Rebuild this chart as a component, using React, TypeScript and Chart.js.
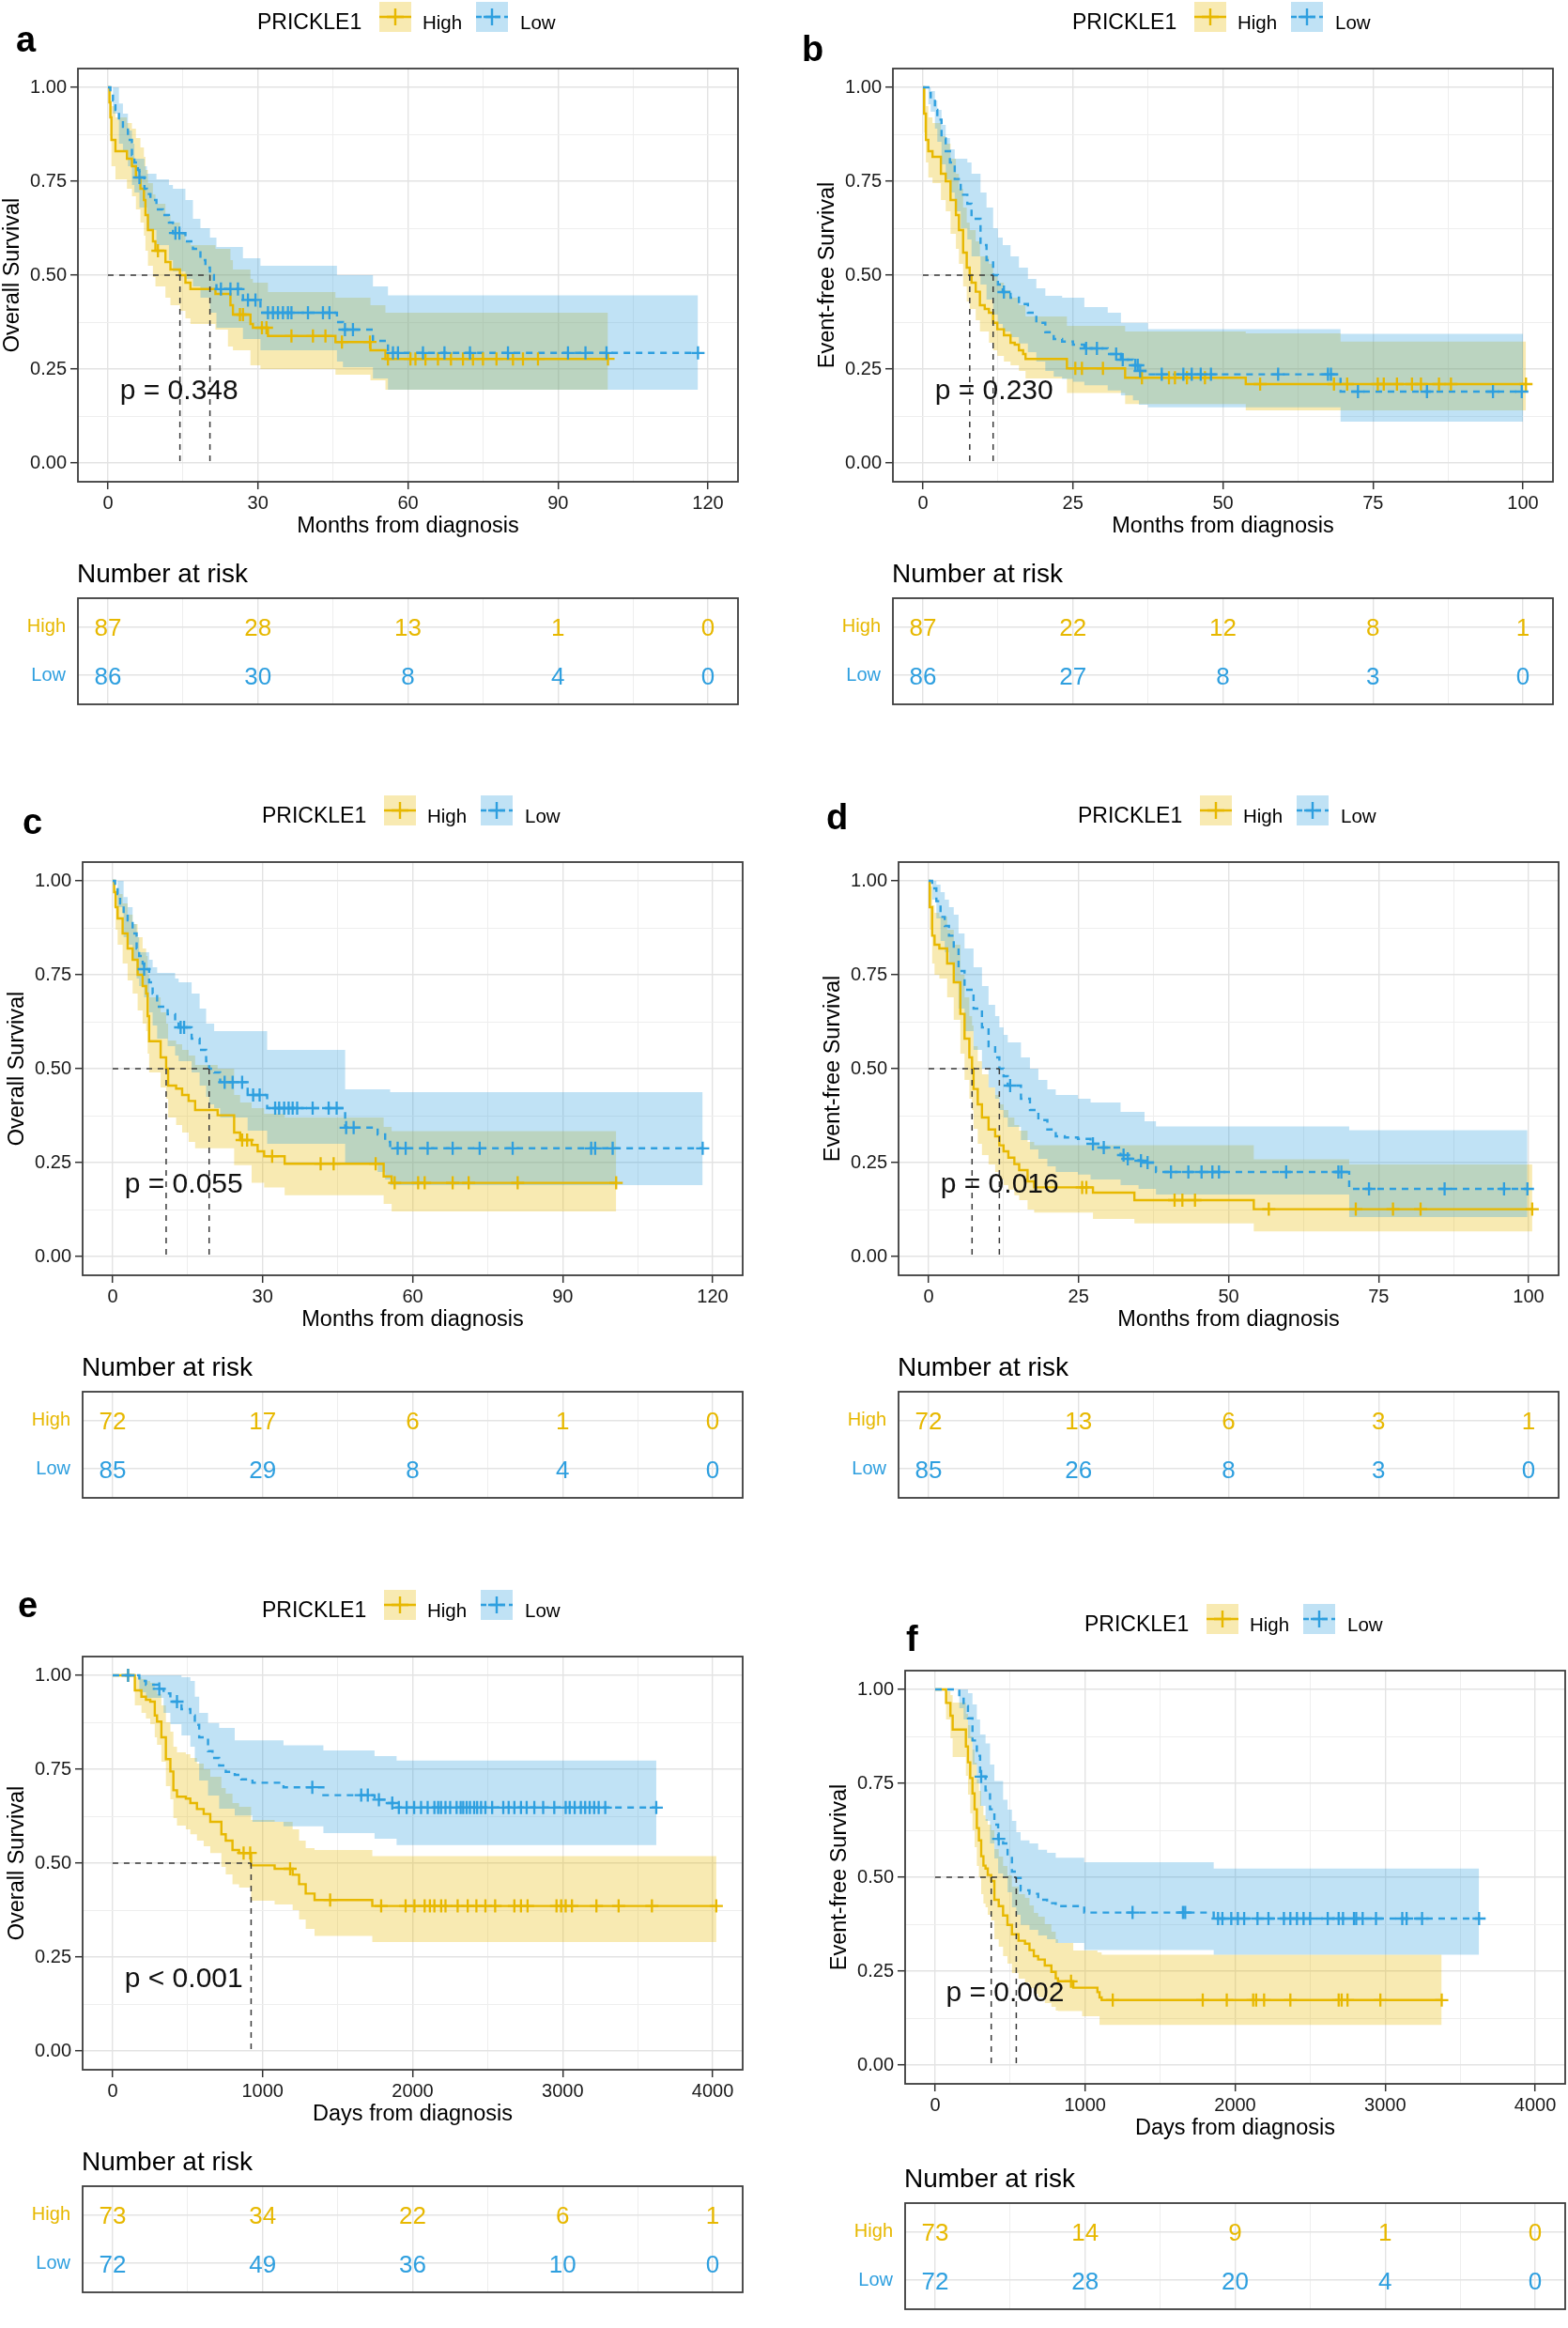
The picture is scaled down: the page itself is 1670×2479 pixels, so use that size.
import React, { useEffect, useRef } from 'react';
import { Chart, registerables } from 'chart.js';

Chart.register(...registerables);

const FONT = '"Liberation Sans", Arial, Helvetica, sans-serif';
Chart.defaults.font.family = FONT;

type Pt = [number, number];

// ---------------- shared labels / ticks ----------------
const legendTitle = 'PRICKLE1';
const riskGroups = ['High', 'Low'];
const survTicks = [0, 0.25, 0.5, 0.75, 1];
const monthTicks30 = [0, 30, 60, 90, 120];
const monthTicks25 = [0, 25, 50, 75, 100];
const dayTicks = [0, 1000, 2000, 3000, 4000];

// ---------------- panel a ----------------
const aHighSurv: Pt[] = [[0,1],[0.3,0.96],[0.5,0.92],[0.7,0.86],[1.5,0.83],[3.8,0.81],[4.8,0.79],[5.6,0.76],[6.5,0.73],[7.2,0.70],[7.5,0.66],[8,0.62],[9,0.59],[9.5,0.565],[11.5,0.535],[12.5,0.515],[14.4,0.50],[15.5,0.48],[16.5,0.463],[21.5,0.45],[24.5,0.42],[25,0.395],[28.5,0.37],[29,0.36],[32,0.338],[45.5,0.322],[52.5,0.30],[55.5,0.277],[100,0.277]];
const aHighUpper: Pt[] = [[0,1],[0.5,0.99],[0.7,0.95],[1.5,0.92],[3.8,0.905],[4.8,0.89],[5.6,0.865],[6.5,0.84],[7.2,0.815],[7.5,0.78],[8,0.745],[9,0.715],[9.5,0.69],[11.5,0.66],[12.5,0.64],[14.4,0.61],[15.5,0.59],[16.5,0.58],[21.5,0.57],[24.5,0.54],[25,0.515],[28.5,0.49],[29,0.48],[32,0.455],[45.5,0.44],[52.5,0.42],[55.5,0.40],[100,0.40]];
const aHighLower: Pt[] = [[0,1],[0.3,0.92],[0.5,0.87],[0.7,0.79],[1.5,0.755],[3.8,0.73],[4.8,0.71],[5.6,0.675],[6.5,0.64],[7.2,0.605],[7.5,0.565],[8,0.525],[9,0.495],[9.5,0.47],[11.5,0.44],[12.5,0.42],[14.4,0.405],[15.5,0.385],[16.5,0.37],[21.5,0.355],[24,0.31],[25,0.30],[28.5,0.26],[30.5,0.25],[45.5,0.235],[52.5,0.22],[55.5,0.195],[100,0.195]];
const aHighCensor = [10.0, 26.4, 27.0, 30.8, 31.7, 36.7, 41.0, 43.5, 46.8, 52.4, 56.0, 60.5, 61.5, 63.5, 66.0, 68.6, 71.0, 73.0, 75.0, 77.7, 81.0, 83.0, 86.0, 100.0];
const aLowSurv: Pt[] = [[0,1],[0.5,0.988],[1,0.965],[1.5,0.94],[2.2,0.91],[3,0.895],[4,0.86],[4.8,0.82],[5.3,0.80],[6,0.78],[6.3,0.76],[7.3,0.73],[7.8,0.716],[8.5,0.70],[9.7,0.675],[11,0.66],[12.2,0.64],[13,0.612],[15.5,0.59],[17,0.57],[18.5,0.54],[19.5,0.52],[20.4,0.50],[21.2,0.48],[21.7,0.463],[27,0.434],[30.5,0.40],[45.8,0.375],[47,0.355],[53,0.325],[56,0.293],[118,0.293]];
const aLowUpper: Pt[] = [[0,1],[2.2,0.957],[3,0.93],[4,0.885],[4.8,0.85],[5.3,0.81],[7.3,0.79],[7.8,0.77],[9.7,0.755],[12.2,0.74],[13,0.73],[15.5,0.70],[17,0.65],[18.5,0.625],[20.4,0.60],[21.7,0.575],[27,0.545],[30.5,0.525],[45.8,0.50],[53,0.47],[56,0.446],[118,0.446]];
const aLowLower: Pt[] = [[0,1],[1,0.93],[2.2,0.85],[3,0.83],[4,0.79],[4.8,0.74],[5.3,0.72],[6.3,0.68],[7.8,0.62],[9.7,0.58],[12.2,0.54],[13,0.51],[15.5,0.49],[17,0.47],[18.5,0.44],[20.4,0.40],[21.7,0.36],[27,0.33],[30.5,0.30],[45.8,0.27],[47,0.255],[53,0.225],[56,0.195],[118,0.195]];
const aLowCensor = [6.3, 13.5, 14.3, 22.6, 24.5, 26.0, 28.0, 29.5, 32.0, 33.0, 34.0, 35.0, 36.0, 36.7, 40.0, 43.0, 44.3, 47.4, 49.0, 57.0, 58.0, 63.0, 67.3, 72.4, 80.0, 92.0, 95.5, 99.7, 118.0];
const aRiskHigh = [87, 28, 13, 1, 0];
const aRiskLow = [86, 30, 8, 4, 0];
const aMedians = [14.4, 20.4];

// ---------------- panel b ----------------
const bHighSurv: Pt[] = [[0,1],[0.2,0.93],[0.5,0.86],[0.9,0.83],[1.6,0.815],[3,0.77],[3.8,0.75],[4.6,0.70],[5.5,0.66],[6,0.62],[6.7,0.56],[7.3,0.52],[7.8,0.50],[8.1,0.48],[8.8,0.456],[9.5,0.42],[10.3,0.41],[11,0.40],[11.7,0.373],[12.4,0.356],[13.5,0.34],[14.6,0.32],[15.3,0.315],[16,0.30],[16.7,0.29],[17.1,0.277],[24,0.252],[33.7,0.227],[53.8,0.21],[100.5,0.21]];
const bHighUpper: Pt[] = [[0,1],[0.5,0.95],[0.9,0.92],[1.6,0.905],[3,0.87],[3.8,0.85],[4.6,0.81],[5.5,0.77],[6,0.73],[6.7,0.68],[7.3,0.64],[7.8,0.62],[8.8,0.59],[9.5,0.55],[11,0.53],[11.7,0.50],[12.4,0.48],[13.5,0.46],[14.6,0.44],[16,0.42],[17.1,0.39],[24,0.365],[33.7,0.35],[53.8,0.345],[69.6,0.323],[100.5,0.323]];
const bHighLower: Pt[] = [[0,1],[0.2,0.88],[0.5,0.80],[0.9,0.76],[1.6,0.745],[3,0.70],[3.8,0.67],[4.6,0.61],[5.5,0.57],[6,0.53],[6.7,0.47],[7.3,0.43],[7.8,0.41],[8.8,0.38],[9.5,0.35],[11,0.32],[11.7,0.30],[12.4,0.285],[13.5,0.27],[14.6,0.26],[16,0.245],[17.1,0.225],[24,0.186],[33.7,0.157],[53.8,0.14],[100.5,0.14]];
const bHighCensor = [25.4, 26.5, 30.0, 36.5, 41.0, 42.0, 44.0, 47.0, 56.2, 68.5, 70.7, 75.8, 76.8, 79.0, 81.5, 83.0, 86.0, 88.0, 100.5];
const bLowSurv: Pt[] = [[0,1],[0.9,0.985],[1.3,0.97],[2,0.94],[2.4,0.914],[3.1,0.864],[3.8,0.83],[4.5,0.80],[5.3,0.756],[6.3,0.714],[7.4,0.69],[8.1,0.65],[9.6,0.58],[10.6,0.54],[11.7,0.50],[12.5,0.475],[13.3,0.455],[14.6,0.44],[16,0.423],[17.5,0.40],[18.9,0.373],[20.4,0.348],[21.8,0.33],[23.2,0.323],[25,0.315],[26.9,0.305],[30.8,0.29],[33,0.275],[35,0.26],[36,0.245],[37.5,0.236],[69.6,0.19],[100,0.19]];
const bLowUpper: Pt[] = [[0,1],[1.3,0.99],[2,0.965],[2.4,0.94],[3.1,0.90],[3.8,0.865],[4.5,0.835],[5.3,0.81],[7.4,0.80],[8.1,0.77],[9.6,0.72],[10.6,0.68],[11.7,0.625],[12.5,0.60],[13.3,0.58],[14.6,0.55],[16,0.52],[17.5,0.49],[18.9,0.465],[20.4,0.445],[23.2,0.44],[26.9,0.415],[30.8,0.40],[33,0.373],[37.5,0.356],[69.6,0.344],[100,0.344]];
const bLowLower: Pt[] = [[0,1],[0.9,0.955],[1.3,0.935],[2,0.89],[2.4,0.855],[3.1,0.795],[3.8,0.755],[4.5,0.72],[5.3,0.67],[6.3,0.625],[7.4,0.595],[8.1,0.55],[9.6,0.475],[10.6,0.435],[11.7,0.395],[12.5,0.37],[13.3,0.35],[14.6,0.335],[16,0.318],[17.5,0.295],[18.9,0.27],[20.4,0.245],[21.8,0.23],[23.2,0.224],[25,0.216],[26.9,0.207],[30.8,0.193],[33,0.18],[35,0.167],[36,0.155],[37.5,0.148],[69.6,0.11],[100,0.11]];
const bLowCensor = [13.5, 27.2, 29.0, 32.2, 33.3, 35.4, 35.8, 36.2, 39.8, 43.4, 44.8, 46.3, 48.0, 59.2, 67.5, 68.0, 72.5, 84.0, 95.0, 99.8];
const bRiskHigh = [87, 22, 12, 8, 1];
const bRiskLow = [86, 27, 8, 3, 0];
const bMedians = [7.8, 11.7];

// ---------------- panel c ----------------
const cHighSurv: Pt[] = [[0,1],[0.3,0.97],[0.6,0.93],[1,0.90],[2,0.86],[3,0.82],[4,0.79],[5,0.75],[6,0.72],[6.7,0.70],[7,0.64],[7.3,0.573],[9.6,0.53],[10.7,0.50],[11.1,0.455],[12.7,0.447],[13.9,0.43],[15.2,0.414],[16.5,0.39],[21,0.376],[24.3,0.33],[25.5,0.31],[27.8,0.297],[29,0.28],[30.3,0.267],[34.4,0.247],[54.2,0.213],[55.8,0.196],[100.7,0.196]];
const cHighUpper: Pt[] = [[0,1],[0.3,0.995],[0.6,0.98],[1,0.965],[2,0.94],[3,0.91],[4,0.885],[5,0.85],[6,0.82],[6.7,0.80],[7,0.75],[7.3,0.69],[9.6,0.65],[10.7,0.62],[11.1,0.575],[12.7,0.565],[13.9,0.55],[15.2,0.535],[16.5,0.51],[21,0.50],[24.3,0.43],[25.5,0.41],[27.8,0.395],[30.3,0.38],[34.4,0.37],[54.2,0.345],[55.8,0.334],[100.7,0.334]];
const cHighLower: Pt[] = [[0,1],[0.3,0.93],[0.6,0.87],[1,0.83],[2,0.78],[3,0.735],[4,0.70],[5,0.655],[6,0.62],[6.7,0.60],[7,0.54],[7.3,0.49],[9.6,0.45],[10.7,0.42],[11.1,0.37],[12.7,0.35],[13.9,0.33],[15.2,0.305],[16.5,0.288],[24.3,0.243],[27.8,0.196],[30.3,0.184],[34.4,0.163],[54.2,0.14],[55.8,0.12],[100.7,0.12]];
const cHighCensor = [25.9, 26.9, 31.9, 41.6, 44.2, 52.6, 56.4, 61.1, 62.4, 68.0, 71.2, 81.0, 100.7];
const cLowSurv: Pt[] = [[0,1],[0.5,0.988],[1,0.965],[1.5,0.94],[2.2,0.91],[3,0.895],[4,0.86],[4.8,0.82],[5.3,0.80],[6,0.78],[6.3,0.765],[7.3,0.73],[8,0.70],[8.9,0.665],[11,0.645],[12.5,0.62],[13.2,0.61],[15.8,0.58],[17.4,0.55],[18.7,0.52],[19.3,0.50],[20.3,0.49],[21.5,0.464],[27,0.43],[30.9,0.395],[46.5,0.343],[53,0.325],[54.5,0.305],[55.5,0.288],[118,0.288]];
const cLowUpper: Pt[] = [[0,1],[2.2,0.957],[3,0.93],[4,0.885],[4.8,0.85],[5.3,0.81],[7.3,0.79],[8,0.77],[8.9,0.755],[12.5,0.74],[13.2,0.73],[15.8,0.70],[17.4,0.66],[18.7,0.62],[20.3,0.60],[30.9,0.55],[46.5,0.445],[55.5,0.4375],[118,0.4375]];
const cLowLower: Pt[] = [[0,1],[1,0.93],[2.2,0.85],[3,0.83],[4,0.79],[4.8,0.74],[5.3,0.72],[6.3,0.69],[7.3,0.65],[8,0.615],[8.9,0.58],[11,0.56],[12.5,0.535],[13.2,0.52],[15.8,0.49],[17.4,0.455],[18.7,0.425],[19.3,0.405],[20.3,0.395],[21.5,0.37],[27,0.335],[30.9,0.30],[46.5,0.245],[53,0.225],[54.5,0.205],[55.5,0.19],[118,0.19]];
const cLowCensor = [6.3, 13.6, 14.3, 22.4, 24.0, 25.9, 28.1, 29.4, 32.5, 33.3, 34.3, 35.2, 36.0, 36.9, 40.0, 43.2, 44.8, 46.7, 48.2, 57.0, 58.6, 63.0, 68.0, 73.4, 80.0, 95.7, 96.5, 100.0, 118.0];
const cRiskHigh = [72, 17, 6, 1, 0];
const cRiskLow = [85, 29, 8, 4, 0];
const cMedians = [10.7, 19.3];

// ---------------- panel d ----------------
const dHighSurv: Pt[] = [[0,1],[0.2,0.93],[0.6,0.854],[1,0.83],[1.8,0.82],[3.1,0.78],[4.2,0.73],[5.3,0.646],[6,0.58],[6.8,0.53],[7.25,0.50],[7.5,0.446],[8.2,0.405],[8.9,0.37],[10,0.338],[11.1,0.32],[11.8,0.296],[12.5,0.28],[13.3,0.263],[14.3,0.246],[15.1,0.23],[16.5,0.20],[17.6,0.184],[27.4,0.17],[34.3,0.15],[54.2,0.126],[100.6,0.126]];
const dHighUpper: Pt[] = [[0,1],[0.2,0.985],[0.6,0.935],[1,0.915],[1.8,0.905],[3.1,0.87],[4.2,0.83],[5.3,0.75],[6,0.69],[6.8,0.64],[7.25,0.615],[7.5,0.56],[8.2,0.52],[8.9,0.485],[10,0.45],[11.1,0.43],[11.8,0.405],[12.5,0.39],[13.3,0.37],[14.3,0.35],[15.1,0.335],[16.5,0.305],[17.6,0.296],[54.2,0.259],[70.1,0.245],[100.6,0.245]];
const dHighLower: Pt[] = [[0,1],[0.2,0.87],[0.6,0.78],[1,0.75],[1.8,0.74],[3.1,0.69],[4.2,0.63],[5.3,0.54],[6,0.47],[6.8,0.42],[7.25,0.39],[7.5,0.34],[8.2,0.30],[8.9,0.27],[10,0.245],[11.1,0.225],[11.8,0.205],[12.5,0.19],[13.3,0.178],[14.3,0.163],[15.1,0.15],[16.5,0.125],[17.6,0.117],[27.4,0.10],[34.3,0.088],[54.2,0.067],[100.6,0.067]];
const dHighCensor = [25.6, 26.3, 41.0, 42.3, 44.4, 56.7, 71.2, 77.4, 82.0, 100.6];
const dLowSurv: Pt[] = [[0,1],[0.6,0.98],[1.3,0.946],[2,0.904],[2.7,0.88],[3.4,0.854],[4.2,0.82],[5,0.76],[6,0.71],[7.5,0.66],[8.9,0.61],[10,0.56],[11.1,0.53],[11.8,0.50],[12.5,0.48],[13.2,0.455],[15.4,0.42],[16.9,0.39],[18.3,0.363],[19.8,0.338],[21.2,0.32],[22.7,0.317],[24.9,0.313],[27,0.30],[28.5,0.29],[32,0.27],[33,0.26],[35,0.255],[36,0.25],[37.9,0.225],[70.1,0.18],[99.8,0.18]];
const dLowUpper: Pt[] = [[0,1],[1.3,0.99],[2,0.97],[2.7,0.95],[3.4,0.93],[4.2,0.91],[5,0.86],[6,0.82],[7.5,0.77],[8.9,0.72],[10,0.67],[11.1,0.64],[11.8,0.61],[12.5,0.59],[13.2,0.57],[15.4,0.53],[16.9,0.50],[18.3,0.47],[19.8,0.445],[21.2,0.43],[24.9,0.42],[27,0.41],[32,0.385],[36,0.36],[37.9,0.346],[70.1,0.336],[99.8,0.336]];
const dLowLower: Pt[] = [[0,1],[0.6,0.95],[1.3,0.90],[2,0.84],[2.7,0.81],[3.4,0.78],[4.2,0.73],[5,0.66],[6,0.60],[7.5,0.55],[8.9,0.50],[10,0.45],[11.1,0.42],[11.8,0.39],[12.5,0.37],[13.2,0.345],[15.4,0.31],[16.9,0.285],[18.3,0.26],[19.8,0.24],[21.2,0.225],[24.9,0.218],[27,0.205],[32,0.19],[35,0.18],[37.9,0.165],[70.1,0.105],[99.8,0.105]];
const dLowCensor = [13.6, 27.4, 29.2, 32.5, 33.2, 35.4, 36.5, 40.4, 43.3, 45.5, 47.3, 48.4, 59.6, 68.3, 68.8, 73.4, 86.0, 95.9, 99.8];
const dRiskHigh = [72, 13, 6, 3, 1];
const dRiskLow = [85, 26, 8, 3, 0];
const dMedians = [7.25, 11.8];

// ---------------- panel e ----------------
const eHighSurv: Pt[] = [[0,1],[148,0.96],[192,0.943],[222,0.935],[251,0.93],[281,0.893],[296,0.877],[325,0.835],[355,0.777],[385,0.744],[405,0.694],[429,0.677],[488,0.672],[518,0.66],[562,0.644],[607,0.631],[651,0.61],[725,0.577],[754,0.56],[799,0.535],[843,0.527],[923,0.494],[1080,0.485],[1200,0.469],[1243,0.444],[1287,0.419],[1346,0.402],[1731,0.386],[4024,0.386]];
const eHighUpper: Pt[] = [[0,1],[148,0.995],[192,0.99],[222,0.985],[251,0.98],[281,0.96],[296,0.95],[325,0.92],[355,0.875],[385,0.85],[405,0.81],[429,0.795],[488,0.79],[518,0.78],[562,0.765],[607,0.75],[651,0.73],[725,0.70],[754,0.685],[799,0.66],[843,0.65],[923,0.615],[1080,0.61],[1200,0.59],[1243,0.56],[1287,0.54],[1346,0.535],[1731,0.519],[4024,0.519]];
const eHighLower: Pt[] = [[0,1],[148,0.92],[192,0.90],[222,0.885],[251,0.87],[281,0.835],[296,0.815],[325,0.77],[355,0.705],[385,0.67],[405,0.62],[429,0.60],[488,0.59],[518,0.577],[562,0.56],[607,0.545],[651,0.527],[725,0.49],[754,0.47],[799,0.444],[843,0.435],[923,0.40],[1080,0.39],[1200,0.375],[1243,0.35],[1287,0.325],[1346,0.306],[1731,0.29],[4024,0.29]];
const eHighCensor = [103, 873, 917, 1183, 1450, 1790, 1953, 2012, 2080, 2115, 2145, 2190, 2219, 2300, 2367, 2425, 2485, 2550, 2678, 2722, 2766, 2959, 2990, 3020, 3062, 3225, 3373, 3595, 4024];
const eLowSurv: Pt[] = [[0,1],[178,0.985],[222,0.975],[300,0.964],[340,0.952],[385,0.93],[459,0.91],[518,0.893],[548,0.868],[577,0.835],[636,0.798],[666,0.78],[710,0.76],[754,0.743],[814,0.735],[858,0.723],[932,0.714],[1139,0.702],[1405,0.681],[1746,0.669],[1834,0.66],[1893,0.648],[3624,0.648]];
const eLowUpper: Pt[] = [[0,1],[459,0.995],[518,0.985],[548,0.943],[577,0.90],[636,0.873],[710,0.86],[814,0.827],[1139,0.814],[1405,0.80],[1746,0.785],[1893,0.773],[3624,0.773]];
const eLowLower: Pt[] = [[0,1],[178,0.955],[222,0.94],[340,0.90],[385,0.87],[459,0.84],[518,0.81],[548,0.77],[577,0.72],[636,0.68],[710,0.645],[814,0.627],[932,0.61],[1139,0.598],[1405,0.58],[1746,0.565],[1893,0.548],[3624,0.548]];
const eLowCensor = [103, 311, 429, 1331, 1657, 1701, 1775, 1864, 1908, 1960, 2010, 2056, 2100, 2145, 2170, 2189, 2219, 2250, 2293, 2320, 2337, 2360, 2382, 2410, 2430, 2456, 2485, 2530, 2604, 2640, 2678, 2722, 2760, 2811, 2870, 2944, 3020, 3047, 3080, 3121, 3150, 3180, 3210, 3240, 3284, 3624];
const eRiskHigh = [73, 34, 22, 6, 1];
const eRiskLow = [72, 49, 36, 10, 0];
const eMedians = [923];

// ---------------- panel f ----------------
const fHighSurv: Pt[] = [[0,1],[73,0.964],[102,0.93],[117,0.893],[205,0.848],[219,0.806],[234,0.764],[249,0.723],[263,0.681],[278,0.631],[292,0.598],[307,0.556],[322,0.531],[336,0.523],[351,0.506],[374,0.49],[395,0.44],[424,0.423],[453,0.398],[482,0.373],[512,0.348],[556,0.331],[599,0.323],[629,0.306],[658,0.29],[687,0.281],[731,0.265],[775,0.248],[804,0.231],[819,0.223],[921,0.206],[1082,0.194],[1096,0.18],[1110,0.173],[3377,0.173]];
const fHighUpper: Pt[] = [[0,1],[73,0.995],[102,0.985],[117,0.965],[205,0.935],[219,0.905],[234,0.875],[249,0.84],[263,0.805],[278,0.76],[292,0.73],[307,0.69],[322,0.665],[336,0.655],[351,0.64],[374,0.625],[395,0.575],[424,0.555],[453,0.53],[482,0.505],[512,0.475],[556,0.455],[599,0.445],[629,0.425],[658,0.405],[687,0.395],[731,0.375],[775,0.355],[804,0.335],[819,0.325],[921,0.305],[1082,0.30],[1110,0.294],[3377,0.294]];
const fHighLower: Pt[] = [[0,1],[73,0.92],[102,0.87],[117,0.82],[205,0.77],[219,0.72],[234,0.67],[249,0.625],[263,0.58],[278,0.53],[292,0.50],[307,0.455],[322,0.43],[336,0.42],[351,0.40],[374,0.385],[395,0.335],[424,0.315],[453,0.29],[482,0.27],[512,0.245],[556,0.23],[599,0.22],[629,0.205],[658,0.19],[687,0.18],[731,0.165],[775,0.155],[804,0.145],[819,0.144],[980,0.13],[1096,0.107],[3377,0.107]];
const fHighCensor = [906, 1184, 1784, 1944, 2120, 2140, 2193, 2368, 2690, 2710, 2749, 2968, 3377];
const fLowSurv: Pt[] = [[0,1],[161,0.98],[190,0.956],[219,0.923],[249,0.864],[278,0.823],[300,0.768],[336,0.731],[366,0.681],[395,0.64],[420,0.602],[453,0.59],[483,0.556],[512,0.515],[541,0.498],[570,0.465],[629,0.456],[687,0.44],[746,0.431],[804,0.423],[994,0.406],[1857,0.39],[3626,0.39]];
const fLowUpper: Pt[] = [[0,1],[219,0.99],[249,0.96],[278,0.92],[300,0.88],[336,0.856],[366,0.80],[395,0.756],[453,0.706],[483,0.68],[512,0.65],[541,0.62],[570,0.598],[629,0.59],[687,0.573],[746,0.565],[804,0.552],[994,0.54],[1857,0.523],[3626,0.523]];
const fLowLower: Pt[] = [[0,1],[161,0.95],[190,0.92],[219,0.87],[249,0.80],[278,0.75],[300,0.69],[336,0.65],[366,0.59],[395,0.55],[420,0.51],[453,0.50],[483,0.46],[512,0.42],[541,0.40],[570,0.373],[629,0.36],[687,0.345],[746,0.335],[804,0.325],[994,0.306],[1857,0.294],[3626,0.294]];
const fLowCensor = [307, 424, 1316, 1652, 1667, 1886, 1915, 1974, 2018, 2060, 2149, 2222, 2325, 2368, 2412, 2456, 2500, 2617, 2690, 2719, 2792, 2807, 2850, 2939, 3114, 3143, 3246, 3626];
const fRiskHigh = [73, 14, 9, 1, 0];
const fRiskLow = [72, 28, 20, 4, 0];
const fMedians = [374, 541];

// ---------------- styles ----------------
const YELLOW = '#E7B800';
const BLUE = '#2E9FDF';
const YELLOW_FILL = 'rgba(231,184,0,0.3)';
const BLUE_FILL = 'rgba(46,159,223,0.3)';
const YELLOW_KEY = 'rgb(248,234,178)';
const BLUE_KEY = 'rgb(192,226,245)';
const FRAME = '#3d3d3d';
const GRID_MAJ = '#E3E3E3';
const GRID_MIN = '#EEEEEE';

interface PanelData {
  high: Pt[]; highUpper: Pt[]; highLower: Pt[]; highCensor: number[];
  low: Pt[]; lowUpper: Pt[]; lowLower: Pt[]; lowCensor: number[];
  medians: number[]; pval: string; pvalPos: number[];
  xTicks: number[]; riskHigh: number[]; riskLow: number[];
  yTitle: string; xTitle: string;
}
interface Layout {
  frameLeft: number; frameTop: number; tableTop: number; xMin: number; xMax: number;
  letter: string; letterX: number; letterBase: number;
}

const panels: PanelData[] = [
  { high: aHighSurv, highUpper: aHighUpper, highLower: aHighLower, highCensor: aHighCensor, low: aLowSurv, lowUpper: aLowUpper, lowLower: aLowLower, lowCensor: aLowCensor, medians: aMedians, pval: 'p = 0.348', pvalPos: [2.4, 0.2], xTicks: monthTicks30, riskHigh: aRiskHigh, riskLow: aRiskLow, yTitle: 'Overall Survival', xTitle: 'Months from diagnosis' },
  { high: bHighSurv, highUpper: bHighUpper, highLower: bHighLower, highCensor: bHighCensor, low: bLowSurv, lowUpper: bLowUpper, lowLower: bLowLower, lowCensor: bLowCensor, medians: bMedians, pval: 'p = 0.230', pvalPos: [2, 0.2], xTicks: monthTicks25, riskHigh: bRiskHigh, riskLow: bRiskLow, yTitle: 'Event-free Survival', xTitle: 'Months from diagnosis' },
  { high: cHighSurv, highUpper: cHighUpper, highLower: cHighLower, highCensor: cHighCensor, low: cLowSurv, lowUpper: cLowUpper, lowLower: cLowLower, lowCensor: cLowCensor, medians: cMedians, pval: 'p = 0.055', pvalPos: [2.4, 0.2], xTicks: monthTicks30, riskHigh: cRiskHigh, riskLow: cRiskLow, yTitle: 'Overall Survival', xTitle: 'Months from diagnosis' },
  { high: dHighSurv, highUpper: dHighUpper, highLower: dHighLower, highCensor: dHighCensor, low: dLowSurv, lowUpper: dLowUpper, lowLower: dLowLower, lowCensor: dLowCensor, medians: dMedians, pval: 'p = 0.016', pvalPos: [2, 0.2], xTicks: monthTicks25, riskHigh: dRiskHigh, riskLow: dRiskLow, yTitle: 'Event-free Survival', xTitle: 'Months from diagnosis' },
  { high: eHighSurv, highUpper: eHighUpper, highLower: eHighLower, highCensor: eHighCensor, low: eLowSurv, lowUpper: eLowUpper, lowLower: eLowLower, lowCensor: eLowCensor, medians: eMedians, pval: 'p < 0.001', pvalPos: [80, 0.2], xTicks: dayTicks, riskHigh: eRiskHigh, riskLow: eRiskLow, yTitle: 'Overall Survival', xTitle: 'Days from diagnosis' },
  { high: fHighSurv, highUpper: fHighUpper, highLower: fHighLower, highCensor: fHighCensor, low: fLowSurv, lowUpper: fLowUpper, lowLower: fLowLower, lowCensor: fLowCensor, medians: fMedians, pval: 'p = 0.002', pvalPos: [72, 0.2], xTicks: dayTicks, riskHigh: fRiskHigh, riskLow: fRiskLow, yTitle: 'Event-free Survival', xTitle: 'Days from diagnosis' },
];

const layouts: Layout[] = [
  { frameLeft: 83, frameTop: 73, tableTop: 637, xMin: -6, xMax: 126, letter: 'a', letterX: 17, letterBase: 55 },
  { frameLeft: 951, frameTop: 73, tableTop: 637, xMin: -5, xMax: 105, letter: 'b', letterX: 854, letterBase: 65 },
  { frameLeft: 88, frameTop: 918, tableTop: 1482, xMin: -6, xMax: 126, letter: 'c', letterX: 24, letterBase: 888 },
  { frameLeft: 957, frameTop: 918, tableTop: 1482, xMin: -5, xMax: 105, letter: 'd', letterX: 880, letterBase: 883 },
  { frameLeft: 88, frameTop: 1764, tableTop: 2328, xMin: -200, xMax: 4200, letter: 'e', letterX: 19, letterBase: 1722 },
  { frameLeft: 964, frameTop: 1779, tableTop: 2346, xMin: -200, xMax: 4200, letter: 'f', letterX: 965, letterBase: 1758 },
];

const Y_AXIS_W = 84;
const FRAME_W = 703;
const FRAME_H = 440;
const TOP_PAD = 73;
const X_AXIS_H = 62;
const KM_RIGHT = 10;
const TAB_TOP = 40;
const TAB_H = 132;

// ---------------- helpers ----------------
const toXY = (c: Pt[]) => c.map(([x, y]) => ({ x, y }));
const stepAt = (c: Pt[], t: number) => {
  let s = c[0][1];
  for (const [x, y] of c) { if (x <= t) s = y; else break; }
  return s;
};
const withMinor = (t: number[]) => t.flatMap((v, i) => (i < t.length - 1 ? [v, (v + t[i + 1]) / 2] : [v]));
const isIn = (v: number, arr: number[]) => arr.some((m) => Math.abs(m - v) < 1e-9);

function drawKey(ctx: CanvasRenderingContext2D, x: number, y: number, color: string, fill: string, dashed: boolean) {
  ctx.save();
  ctx.fillStyle = fill;
  ctx.fillRect(x - 17, y - 16, 34, 32);
  ctx.strokeStyle = color;
  ctx.lineWidth = 2.6;
  if (dashed) ctx.setLineDash([6, 4]);
  ctx.beginPath(); ctx.moveTo(x - 17, y); ctx.lineTo(x + 17, y); ctx.stroke();
  ctx.setLineDash([]);
  ctx.lineWidth = 2.4;
  ctx.beginPath(); ctx.moveTo(x, y - 9); ctx.lineTo(x, y + 9); ctx.moveTo(x - 9, y); ctx.lineTo(x + 9, y); ctx.stroke();
  ctx.restore();
}

function xScaleOpts(p: PanelData, L: Layout, forTable: boolean) {
  const ticks = withMinor(p.xTicks);
  const maj = (ctx: any) => isIn(ctx?.tick?.value ?? NaN, p.xTicks);
  return {
    type: 'linear',
    min: L.xMin,
    max: L.xMax,
    afterBuildTicks: (s: any) => { s.ticks = ticks.map((v) => ({ value: v })); },
    afterFit: (s: any) => { s.height = forTable ? 0 : X_AXIS_H; },
    ticks: {
      display: !forTable,
      autoSkip: false,
      maxRotation: 0,
      padding: 3,
      color: '#1a1a1a',
      font: { size: 20 },
      callback: (v: number) => (isIn(v, p.xTicks) ? String(v) : ''),
    },
    grid: {
      color: (ctx: any) => (maj(ctx) ? GRID_MAJ : GRID_MIN),
      lineWidth: (ctx: any) => (maj(ctx) ? 1.4 : 1.0),
      drawTicks: !forTable,
      tickLength: 8,
      tickWidth: 1.5,
      tickColor: (ctx: any) => (maj(ctx) ? '#333' : 'rgba(0,0,0,0)'),
    },
    border: { display: false },
    title: forTable ? { display: false } : { display: true, text: p.xTitle, color: '#000', font: { size: 23.5 }, padding: { top: 0, bottom: 0 } },
  };
}

function kmConfig(p: PanelData, L: Layout): any {
  const yTicks = withMinor(survTicks);
  const majY = (ctx: any) => isIn(ctx?.tick?.value ?? NaN, survTicks);
  const band = (data: Pt[], fill: any, color: string, order: number) => ({
    type: 'line', data: toXY(data), stepped: 'before', fill, backgroundColor: color,
    borderColor: 'rgba(0,0,0,0)', borderWidth: 0, pointRadius: 0, order,
  });
  const medMax = Math.max(...p.medians);
  const medStyle = { type: 'line', borderColor: '#3a3a3a', borderWidth: 1.5, borderDash: [6, 6], pointRadius: 0, fill: false, order: 4 };
  const medianSets = [
    { ...medStyle, data: [{ x: 0, y: 0.5 }, { x: medMax, y: 0.5 }] },
    ...p.medians.map((m) => ({ ...medStyle, data: [{ x: m, y: 0.5 }, { x: m, y: 0 }] })),
  ];
  const censor = (times: number[], curve: Pt[], color: string, order: number) => ({
    type: 'scatter', data: times.map((t) => ({ x: t, y: stepAt(curve, t) })), showLine: false,
    pointStyle: 'cross', pointRadius: 7, pointBorderWidth: 2.3, borderColor: color, backgroundColor: color, order,
  });
  const plugin = {
    id: 'kmDecor',
    afterDatasetsDraw(chart: any) {
      const { ctx, scales } = chart;
      const x = scales.x.getPixelForValue(p.pvalPos[0]);
      const y = scales.y.getPixelForValue(p.pvalPos[1]);
      ctx.save();
      ctx.font = `30px ${FONT}`;
      ctx.fillStyle = '#111';
      ctx.textAlign = 'left';
      ctx.textBaseline = 'alphabetic';
      ctx.fillText(p.pval, x, y + 12);
      ctx.restore();
    },
    afterDraw(chart: any) {
      const { ctx, chartArea: a } = chart;
      ctx.save();
      ctx.strokeStyle = FRAME;
      ctx.lineWidth = 1.8;
      ctx.strokeRect(a.left, a.top, a.right - a.left, a.bottom - a.top);
      const cx = (a.left + a.right) / 2;
      const base = a.top - 42;
      const ky = a.top - 55;
      ctx.fillStyle = '#000';
      ctx.textAlign = 'left';
      ctx.textBaseline = 'alphabetic';
      ctx.font = `23px ${FONT}`;
      ctx.fillText(legendTitle, cx - 160.5, base);
      drawKey(ctx, cx - 13.5, ky, YELLOW, YELLOW_KEY, false);
      drawKey(ctx, cx + 89.5, ky, BLUE, BLUE_KEY, true);
      ctx.fillStyle = '#000';
      ctx.font = `20.5px ${FONT}`;
      ctx.fillText(riskGroups[0], cx + 15.5, base);
      ctx.fillText(riskGroups[1], cx + 119.5, base);
      ctx.restore();
    },
  };
  return {
    type: 'scatter',
    data: {
      datasets: [
        band(p.highUpper, '+1', YELLOW_FILL, 10),
        band(p.highLower, false, 'rgba(0,0,0,0)', 9),
        band(p.lowUpper, '+1', BLUE_FILL, 8),
        band(p.lowLower, false, 'rgba(0,0,0,0)', 7),
        { type: 'line', data: toXY(p.high), stepped: 'before', borderColor: YELLOW, borderWidth: 2.4, pointRadius: 0, fill: false, order: 6 },
        { type: 'line', data: toXY(p.low), stepped: 'before', borderColor: BLUE, borderWidth: 2.4, borderDash: [7, 6], pointRadius: 0, fill: false, order: 5 },
        ...medianSets,
        censor(p.highCensor, p.high, YELLOW, 3),
        censor(p.lowCensor, p.low, BLUE, 2),
      ],
    },
    options: {
      responsive: false,
      maintainAspectRatio: false,
      animation: false,
      events: [],
      layout: { padding: { left: 0, top: TOP_PAD, right: KM_RIGHT, bottom: 0 } },
      plugins: { legend: { display: false }, tooltip: { enabled: false }, title: { display: false } },
      scales: {
        x: xScaleOpts(p, L, false),
        y: {
          type: 'linear',
          min: -0.05,
          max: 1.05,
          afterBuildTicks: (s: any) => { s.ticks = yTicks.map((v) => ({ value: v })); },
          afterFit: (s: any) => { s.width = Y_AXIS_W; },
          ticks: {
            autoSkip: false,
            padding: 4,
            color: '#1a1a1a',
            font: { size: 20 },
            callback: (v: number) => (isIn(v, survTicks) ? v.toFixed(2) : ''),
          },
          grid: {
            color: (ctx: any) => (majY(ctx) ? GRID_MAJ : GRID_MIN),
            lineWidth: (ctx: any) => (majY(ctx) ? 1.4 : 1.0),
            tickLength: 8,
            tickWidth: 1.5,
            tickColor: (ctx: any) => (majY(ctx) ? '#333' : 'rgba(0,0,0,0)'),
          },
          border: { display: false },
          title: { display: true, text: p.yTitle, color: '#000', font: { size: 23.5 }, padding: { top: 0, bottom: 0 } },
        },
      },
    },
    plugins: [plugin],
  };
}

function tableConfig(p: PanelData, L: Layout): any {
  const plugin = {
    id: 'riskDecor',
    afterDatasetsDraw(chart: any) {
      const { ctx, scales, chartArea: a } = chart;
      ctx.save();
      ctx.font = `26px ${FONT}`;
      ctx.textAlign = 'center';
      ctx.textBaseline = 'alphabetic';
      chart.data.datasets.forEach((ds: any, di: number) => {
        ctx.fillStyle = di === 0 ? YELLOW : BLUE;
        const vals = di === 0 ? p.riskHigh : p.riskLow;
        ds.data.forEach((pt: any, i: number) => {
          ctx.fillText(String(vals[i]), scales.x.getPixelForValue(pt.x), scales.y.getPixelForValue(pt.y) + 9.4);
        });
      });
      ctx.strokeStyle = FRAME;
      ctx.lineWidth = 1.8;
      ctx.strokeRect(a.left, a.top, a.right - a.left, a.bottom - a.top);
      ctx.font = `28px ${FONT}`;
      ctx.fillStyle = '#000';
      ctx.textAlign = 'left';
      ctx.fillText('Number at risk', a.left - 1, a.top - 17);
      ctx.restore();
    },
  };
  return {
    type: 'scatter',
    data: {
      datasets: [
        { data: p.xTicks.map((t) => ({ x: t, y: 1 })), pointRadius: 0, showLine: false },
        { data: p.xTicks.map((t) => ({ x: t, y: 2 })), pointRadius: 0, showLine: false },
      ],
    },
    options: {
      responsive: false,
      maintainAspectRatio: false,
      animation: false,
      events: [],
      layout: { padding: { left: 0, top: TAB_TOP, right: 8, bottom: 6 } },
      plugins: { legend: { display: false }, tooltip: { enabled: false } },
      scales: {
        x: xScaleOpts(p, L, true),
        y: {
          type: 'linear',
          min: 0.4,
          max: 2.6,
          reverse: true,
          afterBuildTicks: (s: any) => { s.ticks = [{ value: 1 }, { value: 2 }]; },
          afterFit: (s: any) => { s.width = Y_AXIS_W; },
          ticks: {
            autoSkip: false,
            padding: 13,
            font: { size: 20 },
            color: (ctx: any) => (ctx?.tick?.value === 1 ? YELLOW : BLUE),
            callback: (v: number) => (v === 1 ? riskGroups[0] : riskGroups[1]),
          },
          grid: { color: GRID_MAJ, lineWidth: 1.4, drawTicks: false },
          border: { display: false },
        },
      },
    },
    plugins: [plugin],
  };
}

function ChartBox({ left, top, width, height, make }: { left: number; top: number; width: number; height: number; make: () => any }) {
  const ref = useRef<HTMLCanvasElement>(null);
  useEffect(() => {
    const chart = new Chart(ref.current as HTMLCanvasElement, make());
    return () => chart.destroy();
  }, []);
  return (
    <canvas
      ref={ref}
      width={width}
      height={height}
      style={{ position: 'absolute', left, top, width, height, display: 'block' }}
    />
  );
}

export default function App() {
  return (
    <div style={{ position: 'absolute', left: 0, top: 0, width: 1670, height: 2479, background: '#fff', overflow: 'hidden' }}>
      {panels.map((p, i) => {
        const L = layouts[i];
        return (
          <React.Fragment key={i}>
            <ChartBox
              left={L.frameLeft - Y_AXIS_W}
              top={L.frameTop - TOP_PAD}
              width={Y_AXIS_W + FRAME_W + KM_RIGHT}
              height={TOP_PAD + FRAME_H + X_AXIS_H}
              make={() => kmConfig(p, L)}
            />
            <ChartBox
              left={L.frameLeft - Y_AXIS_W}
              top={L.tableTop - TAB_TOP}
              width={Y_AXIS_W + FRAME_W + 8}
              height={TAB_TOP + TAB_H + 6}
              make={() => tableConfig(p, L)}
            />
          </React.Fragment>
        );
      })}
      {layouts.map((L, i) => (
        <div
          key={'l' + i}
          style={{
            position: 'absolute',
            left: L.letterX,
            top: L.letterBase - 32,
            fontFamily: FONT,
            fontWeight: 'bold',
            fontSize: 38,
            lineHeight: '38px',
            color: '#000',
          }}
        >
          {L.letter}
        </div>
      ))}
    </div>
  );
}
